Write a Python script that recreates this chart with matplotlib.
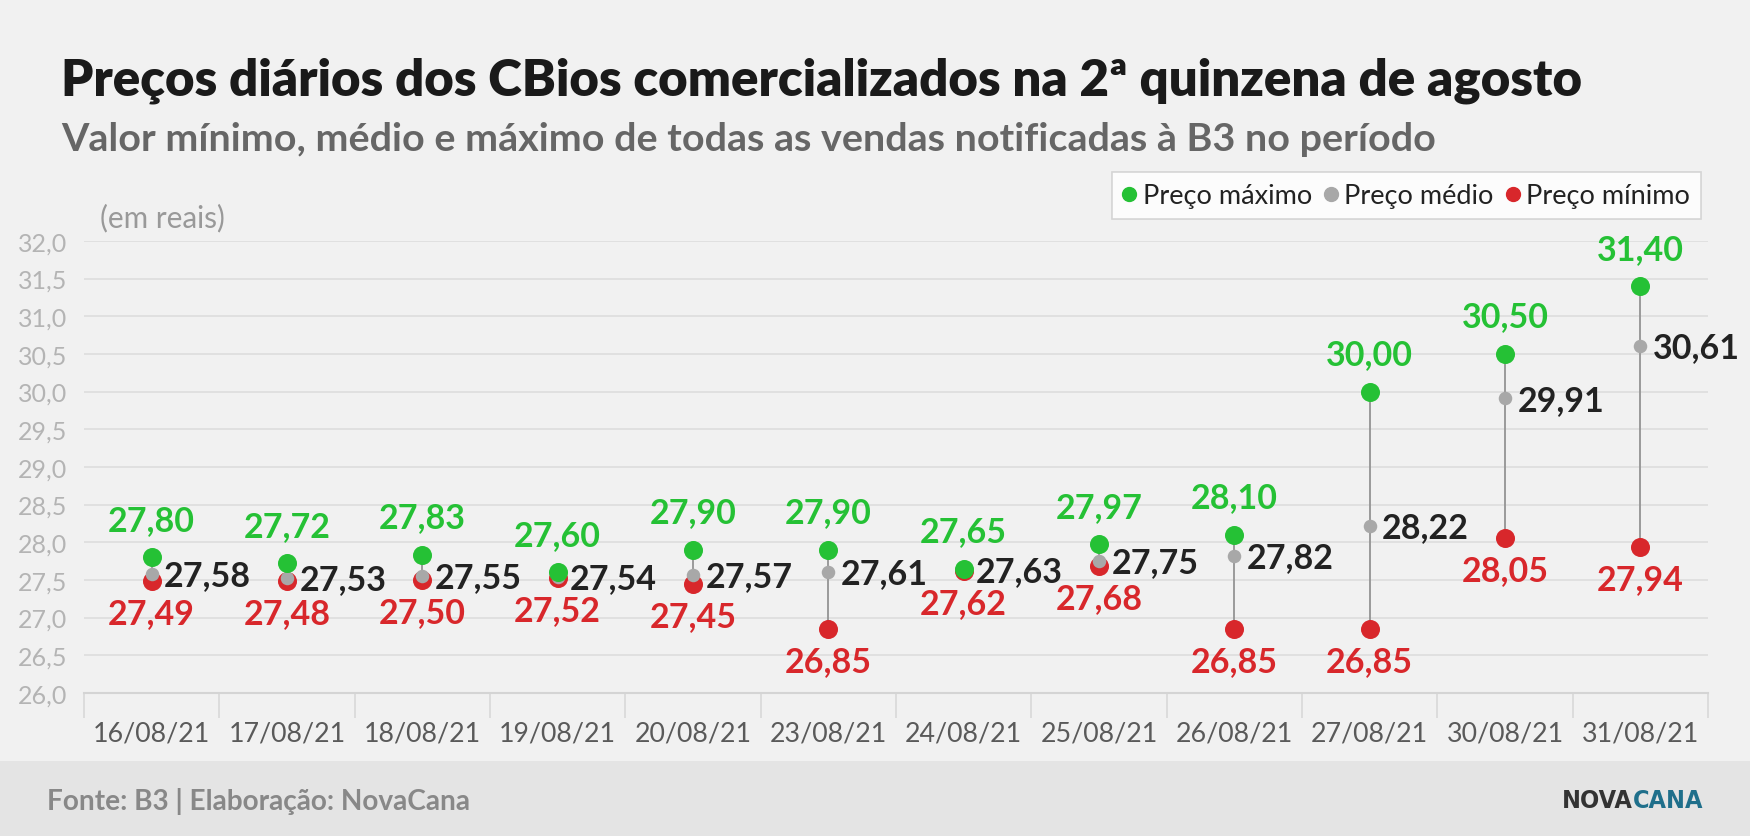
import matplotlib
matplotlib.use("Agg")
import matplotlib.pyplot as plt
from matplotlib import font_manager
from matplotlib.font_manager import FontProperties
from matplotlib.lines import Line2D

dates = ["16/08/21", "17/08/21", "18/08/21", "19/08/21", "20/08/21", "23/08/21",
         "24/08/21", "25/08/21", "26/08/21", "27/08/21", "30/08/21", "31/08/21"]
preco_max = [27.80, 27.72, 27.83, 27.60, 27.90, 27.90, 27.65, 27.97, 28.10, 30.00, 30.50, 31.40]
preco_med = [27.58, 27.53, 27.55, 27.54, 27.57, 27.61, 27.63, 27.75, 27.82, 28.22, 29.91, 30.61]
preco_min = [27.49, 27.48, 27.50, 27.52, 27.45, 26.85, 27.62, 27.68, 26.85, 26.85, 28.05, 27.94]
y_ticks = [26.0, 26.5, 27.0, 27.5, 28.0, 28.5, 29.0, 29.5, 30.0, 30.5, 31.0, 31.5, 32.0]

title = "Preços diários dos CBios comercializados na 2ª quinzena de agosto"
subtitle = "Valor mínimo, médio e máximo de todas as vendas notificadas à B3 no período"
unit = "(em reais)"
source = "Fonte: B3 | Elaboração: NovaCana"
legend_labels = ["Preço máximo", "Preço médio", "Preço mínimo"]
logo_a, logo_b = "NOVA", "CANA"

GREEN = "#25c135"
GRAY = "#a8a8a8"
RED = "#d8272b"
BG = "#f1f1f1"

names = {f.name for f in font_manager.fontManager.ttflist}
FONT = "Lato" if "Lato" in names else "DejaVu Sans"
plt.rcParams["font.family"] = [FONT, "DejaVu Sans"]
heavy = any(f.name == FONT and f.weight in (800, 900, "heavy", "black", "extra bold")
            for f in font_manager.fontManager.ttflist)
TITLE_W = "heavy" if heavy else "bold"

# condensed bold font for the logo, if any
logo_prop = None
for f in sorted(font_manager.fontManager.ttflist, key=lambda f: f.fname):
    nm = (f.name + " " + f.fname).lower()
    if ("narrow" in nm or "condensed" in nm or "cond" in f.fname.lower()) and \
            str(f.weight) in ("700", "bold", "800", "900", "heavy", "black") and f.style == "normal":
        logo_prop = FontProperties(fname=f.fname)
        break
if logo_prop is None:
    logo_prop = FontProperties(family=FONT, weight="bold")

def fmt(v, nd=2):
    return f"{v:.{nd}f}".replace(".", ",")

fig = plt.figure(figsize=(17.5, 8.37), dpi=100, facecolor=BG)
renderer = fig.canvas.get_renderer()

def fit(t, width_px):
    w = t.get_window_extent(renderer=renderer).width
    t.set_fontsize(t.get_fontsize() * width_px / w)

fig.patches.append(plt.Rectangle((0, 0), 1, 0.0896, transform=fig.transFigure,
                                 facecolor="#e4e4e4", edgecolor="none", zorder=0))

ax = fig.add_axes([0.048, 0.171, 0.928, 0.540])
ax.set_facecolor(BG)
x = list(range(len(dates)))

ax.vlines(x, preco_min, preco_max, color="#9a9a9a", lw=1.4, zorder=2)
ax.scatter(x, preco_min, s=19**2 * 0.52, color=RED, zorder=3, linewidths=0)
ax.scatter(x, preco_med, s=13.5**2 * 0.52, color=GRAY, zorder=4, linewidths=0)
ax.scatter(x, preco_max, s=19**2 * 0.52, color=GREEN, zorder=5, linewidths=0)

lab_fs = 24.5
for xi, vmax, vmed, vmin in zip(x, preco_max, preco_med, preco_min):
    ax.annotate(fmt(vmax), (xi, vmax), xytext=(0, 27), textcoords="offset points",
                ha="center", va="center", fontsize=lab_fs, fontweight="bold",
                color=GREEN, zorder=6, annotation_clip=False)
    ax.annotate(fmt(vmin), (xi, vmin), xytext=(0, -23), textcoords="offset points",
                ha="center", va="center", fontsize=lab_fs, fontweight="bold",
                color=RED, zorder=6, annotation_clip=False)
    ax.annotate(fmt(vmed), (xi, vmed), xytext=(9, -1), textcoords="offset points",
                ha="left", va="center", fontsize=lab_fs, fontweight="bold",
                color="#222222", zorder=6, annotation_clip=False)

ax.set_xlim(-0.5, len(dates) - 0.5)
ax.set_ylim(26.0, 32.0)
ax.set_yticks(y_ticks)
ax.set_yticklabels([fmt(v, 1) for v in y_ticks])
ax.set_xticks(x)
ax.set_xticklabels(dates)
ax.set_xticks([i - 0.5 for i in range(len(dates) + 1)], minor=True)
ax.tick_params(axis="x", which="major", length=0, pad=20, labelsize=19.3, labelcolor="#5a5a5a")
ax.tick_params(axis="x", which="minor", length=18, width=1.2, color="#d8d8d8", direction="out")
ax.tick_params(axis="y", length=0, pad=12, labelsize=18, labelcolor="#b4b4b4")
ax.grid(axis="y", color="#dddddd", lw=1.2, zorder=0)
for s in ["left", "right", "top"]:
    ax.spines[s].set_visible(False)
ax.spines["bottom"].set_color("#d4d4d4")
ax.spines["bottom"].set_linewidth(1.5)

handles = [Line2D([], [], marker="o", ls="none", color=c, markersize=10) for c in (GREEN, GRAY, RED)]
leg = fig.legend(handles, legend_labels, loc="upper right", bbox_to_anchor=(0.972, 0.793),
                 borderaxespad=0, ncol=3, frameon=True, fancybox=False, fontsize=19.5,
                 handlelength=0.5, handletextpad=0.25, columnspacing=0.45, borderpad=0.4,
                 labelcolor="#222222")
leg.get_frame().set_facecolor("white")
leg.get_frame().set_edgecolor("#cccccc")
leg.get_frame().set_linewidth(1.2)

t = fig.text(0.035, 0.886, title, fontsize=38, fontweight=TITLE_W, color="#1a1a1a", va="baseline")
fit(t, 1523)
t = fig.text(0.035, 0.819, subtitle, fontsize=28, fontweight="bold", color="#666666", va="baseline")
fit(t, 1373)
t = fig.text(0.057, 0.739, unit, fontsize=21, color="#999999", va="center")
fit(t, 125)
t = fig.text(0.027, 0.043, source, fontsize=20, fontweight="bold", color="#888888", va="center")
fit(t, 424)

ta = fig.text(0.8926, 0.043, logo_a, fontproperties=logo_prop, fontsize=26, color="#333333", va="center")
tb = fig.text(0.95, 0.043, logo_b, fontproperties=logo_prop, fontsize=26, color="#1f6f8b", va="center")
wa = ta.get_window_extent(renderer=renderer).width
wb = tb.get_window_extent(renderer=renderer).width
scale = 141.0 / (wa + wb)
ta.set_fontsize(26 * scale)
tb.set_fontsize(26 * scale)
bb = ta.get_window_extent(renderer=renderer)
tb.set_x(bb.x1 / fig.bbox.width)

fig.savefig("out.png", dpi=100, facecolor=BG)
